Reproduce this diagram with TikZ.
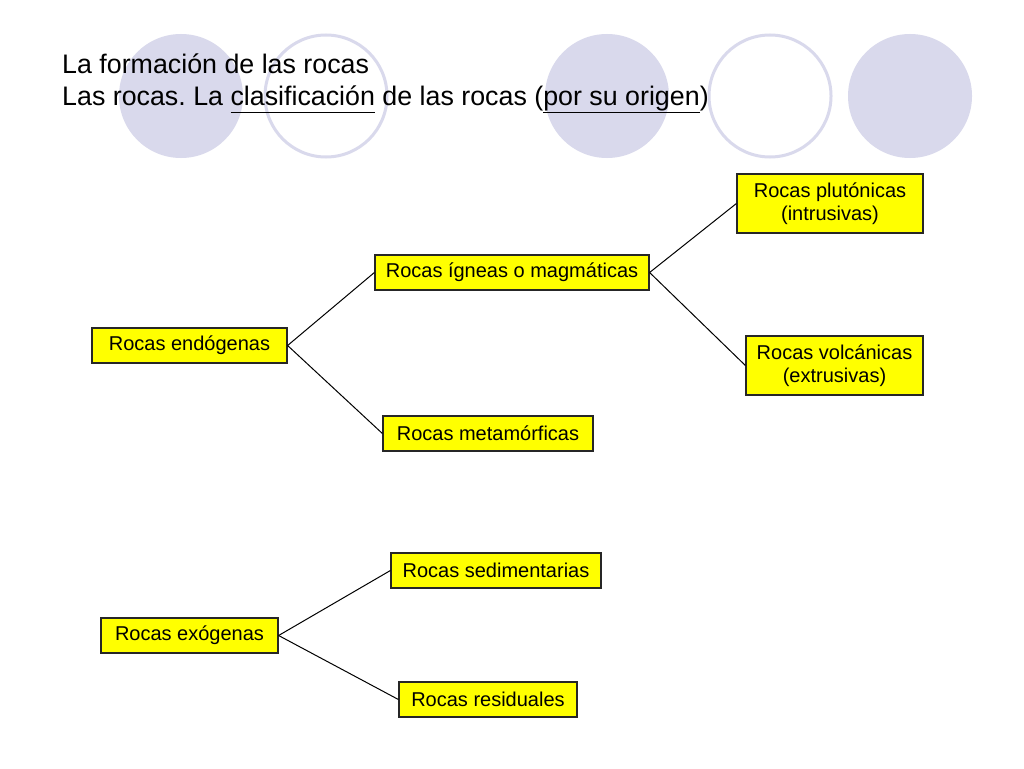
\documentclass[tikz,border=0pt]{standalone}
\usepackage{fontspec}
\setmainfont{Liberation Sans}
\usepackage{tikz}
\frenchspacing

\definecolor{lavanda}{RGB}{217,217,236}
\definecolor{amarillo}{RGB}{255,255,0}

\begin{document}
\begin{tikzpicture}[x=1pt, y=-1pt,
        roca/.style={draw=black!85, fill=amarillo, line width=1.2pt, inner sep=0pt,
            align=center, font=\fontsize{20}{23.5}\selectfont},
        rama/.style={line width=1pt}]
        \useasboundingbox (0, 0) rectangle (1024, 768);
        \fill [white] (0, 0) rectangle (1024, 768);
        % circulos del fondo
        \fill [lavanda] (181, 96) circle (62);
        \draw [lavanda, line width=3pt] (326, 96) circle (61);
        \fill [lavanda] (607, 96) circle (62);
        \draw [lavanda, line width=3pt] (770, 96) circle (61);
        \fill [lavanda] (910, 96) circle (62);
        % titulo
        \node [anchor=base west, inner sep=0pt, font=\fontsize{26.8}{34}\selectfont] (tit1) at (62, 73)
            {La formación de las rocas};
        \node [anchor=base west, inner sep=0pt, font=\fontsize{26.8}{34}\selectfont] (tit2) at (62, 105)
            {Las rocas. La \underline{clasificación\vphantom{p}} de las rocas (\underline{por su origen})};
        % cajas
        \node [roca, minimum width=195, minimum height=35] (endo) at (189.5, 345.5) {Rocas endógenas};
        \node [roca, minimum width=274, minimum height=35] (ignea) at (512, 272.5) {Rocas ígneas o magmáticas};
        \node [roca, minimum width=186, minimum height=59] (pluto) at (830, 203.5) {Rocas plutónicas\\(intrusivas)};
        \node [roca, minimum width=177, minimum height=59] (volca) at (834.5, 365.5) {Rocas volcánicas\\(extrusivas)};
        \node [roca, minimum width=210, minimum height=35] (meta) at (488, 433.5) {Rocas metamórficas};
        \node [roca, minimum width=177, minimum height=35] (exo) at (189.5, 635.5) {Rocas exógenas};
        \node [roca, minimum width=210, minimum height=35] (sedi) at (496, 570.5) {Rocas sedimentarias};
        \node [roca, minimum width=178, minimum height=35] (resi) at (488, 699.5) {Rocas residuales};
        % ramas
        \draw [rama] (endo.east) -- (ignea.west);
        \draw [rama] (endo.east) -- (meta.west);
        \draw [rama] (ignea.east) -- (pluto.west);
        \draw [rama] (ignea.east) -- (volca.west);
        \draw [rama] (exo.east) -- (sedi.west);
        \draw [rama] (exo.east) -- (resi.west);
    \end{tikzpicture}
\end{document}
